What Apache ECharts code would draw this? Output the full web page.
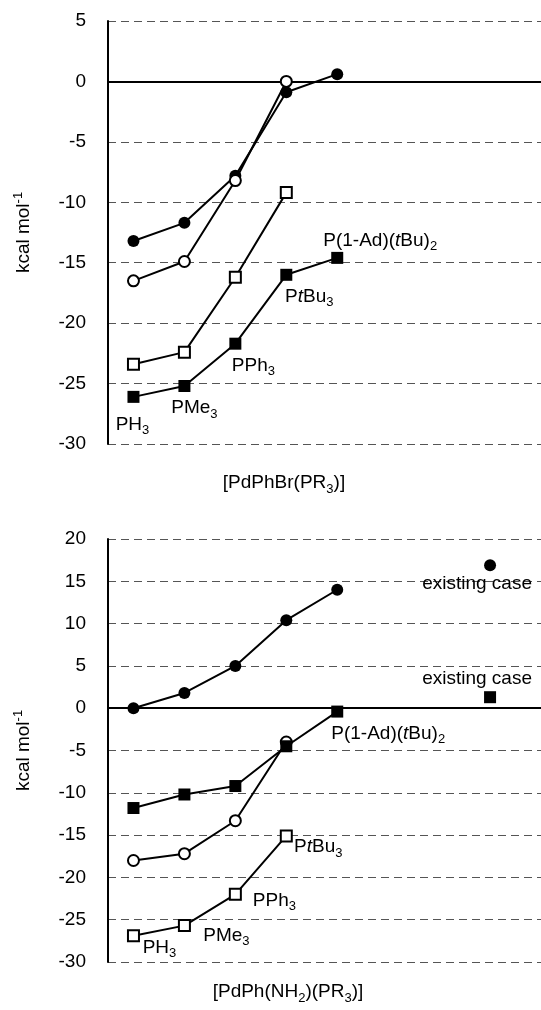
<!DOCTYPE html>
<html>
<head>
<meta charset="utf-8">
<script src="https://cdn.jsdelivr.net/npm/echarts@6/dist/echarts.min.js"></script>
<style>
  html, body { margin: 0; padding: 0; background: #fff; }
  #chart { width: 541px; height: 1010px; }
</style>
</head>
<body>
<div id="chart"></div>
<script>
// 配体位置（横轴序号）
const xPos = [1, 2, 3, 4, 5];
const existingX = 8;

// 上图 [PdPhBr(PR3)]
const topFilledCircle = [-13.2, -11.7, -7.8, -0.9, 0.6];
const topOpenCircle = [-16.5, -14.9, -8.2, 0.0];
const topOpenSquare = [-23.4, -22.4, -16.2, -9.2];
const topFilledSquare = [-26.1, -25.2, -21.7, -16.0, -14.6];

// 下图 [PdPh(NH2)(PR3)]
const botFilledCircle = [0.0, 1.8, 5.0, 10.4, 14.0];
const botOpenCircle = [-18.0, -17.2, -13.3, -4.0];
const botOpenSquare = [-26.9, -25.7, -22.0, -15.1];
const botFilledSquare = [-11.8, -10.2, -9.2, -4.5, -0.4];
const botExistingCircle = 16.9;
const botExistingSquare = 1.3;

// 配体名称（rich 文本）
const ligandNames = ['PH{s|3}', 'PMe{s|3}', 'PPh{s|3}', 'P{i|t}Bu{s|3}', 'P(1-Ad)({i|t}Bu){s|2}'];
const existingName = 'existing case';

// 坐标轴刻度
const topYTicks = { min: -30, max: 5, interval: 5 };
const botYTicks = { min: -30, max: 20, interval: 5 };

// 标签偏移（像素）
const topLabelOffsets = [[-1, 28], [10, 22], [18, 22], [23, 22], [43, -17]];
const botLabelOffsets = [[26, 12], [42, 10], [39, 6], [32, 11], [51, 22]];
const existingCircleOffset = [-13, 19];
const existingSquareOffset = [-13, -18];

const FONT = '"Liberation Sans", Arial, Helvetica, sans-serif';
const FS = 19;

const rich = {
    s: { fontSize: 13, fontFamily: FONT, color: '#000', padding: [12, 0, 0, 0] },
    i: { fontSize: FS, fontFamily: FONT, color: '#000', fontStyle: 'italic' },
    p: { fontSize: 13, fontFamily: FONT, color: '#000', padding: [0, 0, 11, 0] }
};

const markerStyles = {
    filledCircle: { symbol: 'circle', symbolSize: 12, itemStyle: { color: '#000', opacity: 1 } },
    openCircle: { symbol: 'circle', symbolSize: 11, itemStyle: { color: '#fff', borderColor: '#000', borderWidth: 2, opacity: 1 } },
    filledSquare: { symbol: 'rect', symbolSize: 12, itemStyle: { color: '#000', opacity: 1 } },
    openSquare: { symbol: 'rect', symbolSize: 11, itemStyle: { color: '#fff', borderColor: '#000', borderWidth: 2, opacity: 1 } }
};

function makeLabel(text, offset, fontSize) {
    return {
        show: true,
        position: 'inside',
        offset: offset,
        align: 'center',
        verticalAlign: 'middle',
        fontSize: fontSize || FS,
        fontFamily: FONT,
        color: '#000',
        rich: rich,
        formatter: function () { return text; }
    };
}

function lineSeries(gridIndex, values, kind, labels) {
    const data = values.map(function (v, i) {
        const item = { value: [xPos[i], v] };
        if (labels && labels[i]) item.label = labels[i];
        return item;
    });
    return Object.assign({
        type: 'line',
        xAxisIndex: gridIndex,
        yAxisIndex: gridIndex,
        data: data,
        showAllSymbol: true,
        lineStyle: { color: '#000', width: 2 },
        label: { show: false },
        emphasis: { disabled: true },
        z: 3
    }, markerStyles[kind]);
}

function pointSeries(gridIndex, x, y, kind, label) {
    return Object.assign({
        type: 'scatter',
        xAxisIndex: gridIndex,
        yAxisIndex: gridIndex,
        data: [{ value: [x, y], label: label }],
        emphasis: { disabled: true },
        z: 3
    }, markerStyles[kind]);
}

function xAxisFor(gridIndex) {
    return {
        type: 'value',
        gridIndex: gridIndex,
        min: 0.5,
        max: 9,
        axisLine: { show: true, onZero: true, lineStyle: { color: '#000', width: 2 } },
        axisTick: { show: false },
        axisLabel: { show: false },
        splitLine: { show: false }
    };
}

function yAxisFor(gridIndex, ticks) {
    return {
        type: 'value',
        gridIndex: gridIndex,
        min: ticks.min,
        max: ticks.max,
        interval: ticks.interval,
        name: 'kcal mol{p|-1}',
        nameLocation: 'middle',
        nameGap: 72,
        nameTextStyle: { fontSize: FS, fontFamily: FONT, color: '#000', rich: rich },
        axisLine: { show: true, onZero: false, lineStyle: { color: '#000', width: 2 } },
        axisTick: { show: false },
        axisLabel: { fontSize: FS, fontFamily: FONT, color: '#000', margin: 22 },
        splitLine: { show: true, lineStyle: { color: '#555', width: 1.2, type: [8, 5] } }
    };
}

const topLabels = ligandNames.map(function (n, i) { return makeLabel(n, topLabelOffsets[i]); });
const botLabels = ligandNames.map(function (n, i) { return makeLabel(n, botLabelOffsets[i]); });

const dom = document.getElementById('chart');
const chart = echarts.init(dom, null, { renderer: 'canvas' });

const option = {
    animation: false,
    backgroundColor: '#fff',
    textStyle: { fontFamily: FONT },
    grid: [
        { left: 108, right: 0, top: 21, height: 423, outerBoundsMode: 'none' },
        { left: 108, right: 0, top: 539, height: 423, outerBoundsMode: 'none' }
    ],
    xAxis: [xAxisFor(0), xAxisFor(1)],
    yAxis: [yAxisFor(0, topYTicks), yAxisFor(1, botYTicks)],
    graphic: [
        {
            type: 'text', x: 284, y: 483, silent: true,
            style: { text: '[PdPhBr(PR{s|3})]', fill: '#000', font: FS + 'px ' + FONT, fontSize: FS, fontFamily: FONT,
                     align: 'center', verticalAlign: 'middle', rich: rich }
        },
        {
            type: 'text', x: 288, y: 992, silent: true,
            style: { text: '[PdPh(NH{s|2})(PR{s|3})]', fill: '#000', font: FS + 'px ' + FONT, fontSize: FS, fontFamily: FONT,
                     align: 'center', verticalAlign: 'middle', rich: rich }
        }
    ],
    series: [
        // 上图
        lineSeries(0, topFilledCircle, 'filledCircle'),
        lineSeries(0, topOpenCircle, 'openCircle'),
        lineSeries(0, topOpenSquare, 'openSquare'),
        lineSeries(0, topFilledSquare, 'filledSquare', topLabels),
        // 下图
        lineSeries(1, botFilledCircle, 'filledCircle'),
        lineSeries(1, botOpenCircle, 'openCircle'),
        lineSeries(1, botOpenSquare, 'openSquare', botLabels.slice(0, 4)),
        lineSeries(1, botFilledSquare, 'filledSquare', [null, null, null, null, botLabels[4]]),
        pointSeries(1, existingX, botExistingCircle, 'filledCircle', makeLabel(existingName, existingCircleOffset)),
        pointSeries(1, existingX, botExistingSquare, 'filledSquare', makeLabel(existingName, existingSquareOffset))
    ]
};

chart.setOption(option);
</script>
</body>
</html>
